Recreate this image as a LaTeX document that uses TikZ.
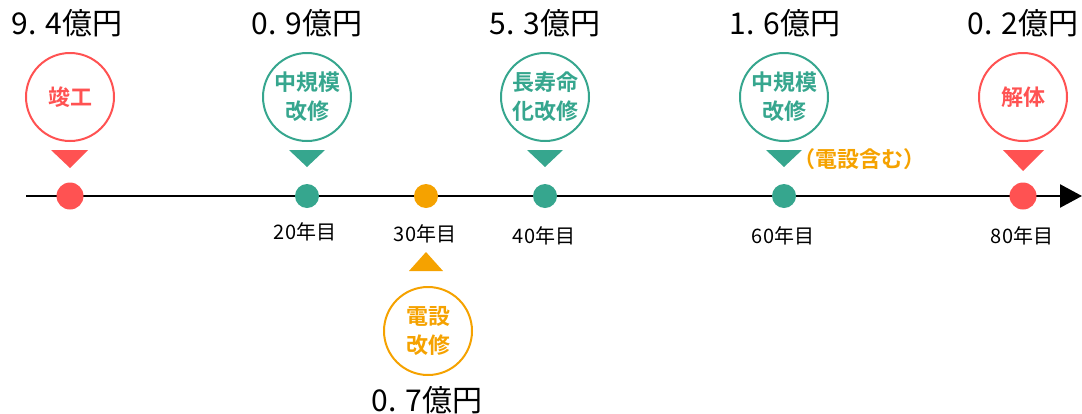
\documentclass[tikz,border=0pt]{standalone}
\usepackage{fontspec}
\setmainfont{Noto Sans CJK JP}[BoldFont={Noto Sans CJK JP Bold}]
\usetikzlibrary{arrows.meta}
\definecolor{cred}{RGB}{255,82,82}
\definecolor{cteal}{RGB}{54,166,142}
\definecolor{corange}{RGB}{245,162,0}
\newcommand{\pd}{.\hspace{9pt}}
\tikzset{
  dot/.style={circle,fill=#1,inner sep=0pt,minimum size=24pt},
  bigdot/.style={circle,fill=#1,inner sep=0pt,minimum size=27pt},
  bubble/.style={circle,draw=#1,line width=2pt,text=#1,minimum size=88pt,inner sep=0pt,
    font=\bfseries\fontsize{22}{29}\selectfont,align=center},
  cost/.style={font=\fontsize{30}{31}\selectfont,text=black},
  year/.style={font=\fontsize{20}{21}\selectfont,text=black},
}
\begin{document}
\begin{tikzpicture}[x=1pt,y=-1pt]
\useasboundingbox (0,0) rectangle (1082,413);
% timeline
\coordinate (ls) at (26,196);
\coordinate (le) at (1082,196);
\draw[line width=2.5pt,-{Triangle[length=22pt,width=23pt]}] (ls) -- (le);
% dots
\node[bigdot=cred] (d0) at (70,196) {};
\node[dot=cteal] (d1) at (307,196) {};
\node[dot=corange] (d2) at (426,196) {};
\node[dot=cteal] (d3) at (545,196) {};
\node[dot=cteal] (d4) at (784,196) {};
\node[bigdot=cred] (d5) at (1023,196) {};
% year labels
\node[year] (y1) at (305,232) {20年目};
\node[year] (y2) at (425,234) {30年目};
\node[year] (y3) at (544,236) {40年目};
\node[year] (y4) at (783,236) {60年目};
\node[year] (y5) at (1022,236) {80年目};
% triangles
\fill[cred] (51,150) -- (88,150) -- (70,168) -- cycle;
\fill[cteal] (289,150) -- (325,150) -- (307,167) -- cycle;
\fill[cteal] (527,150) -- (563,150) -- (545,167) -- cycle;
\fill[cteal] (766,150) -- (802,150) -- (784,167) -- cycle;
\fill[cred] (1003,150) -- (1044,150) -- (1023,171) -- cycle;
\fill[corange] (409,271) -- (443,271) -- (426,252) -- cycle;
% bubbles
\node[bubble=cred] (b0) at (70,97) {竣工};
\node[bubble=cteal] (b1) at (307,97) {中規模\\改修};
\node[bubble=cteal] (b2) at (545,97) {長寿命\\化改修};
\node[bubble=cteal] (b3) at (784,97) {中規模\\改修};
\node[bubble=cred] (b4) at (1023,97) {解体};
\node[bubble=corange] (b5) at (428,331) {電設\\改修};
\node[font=\bfseries\fontsize{22}{24}\selectfont,text=corange,anchor=west,inner sep=0pt] (note) at (793,159) {（電設含む）};
% costs
\node[cost] (k0) at (67,23) {9\pd 4億円};
\node[cost] (k1) at (307,23) {0\pd 9億円};
\node[cost] (k2) at (545,23) {5\pd 3億円};
\node[cost] (k3) at (785,23) {1\pd 6億円};
\node[cost] (k4) at (1023,23) {0\pd 2億円};
\node[cost] (k5) at (427,400) {0\pd 7億円};
\end{tikzpicture}
\end{document}
